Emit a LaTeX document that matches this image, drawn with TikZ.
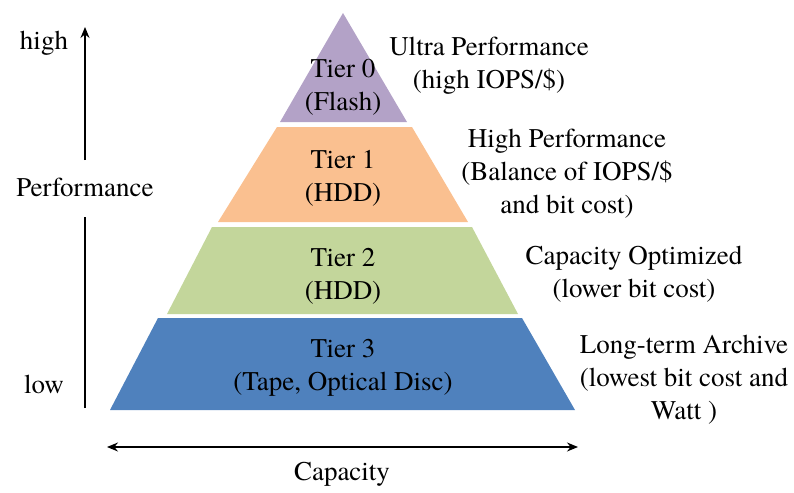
\documentclass[tikz,border=0pt]{standalone}
\usepackage{fontspec}
\setmainfont{TeX Gyre Termes}
\usetikzlibrary{arrows.meta}
\definecolor{tierpurple}{RGB}{179,162,199}
\definecolor{tierorange}{RGB}{250,192,144}
\definecolor{tiergreen}{RGB}{195,214,155}
\definecolor{tierblue}{RGB}{79,129,189}
\begin{document}
\begin{tikzpicture}[x=1pt,y=-1pt,
  lbl/.style={align=center,font=\fontsize{27}{33}\selectfont,inner sep=0pt},
  axis/.style={line width=1.5pt},
  tip/.style={-{Stealth[length=11pt,width=9pt]}}]
\useasboundingbox (0,0) rectangle (794,492);
% pyramid bands
\fill[tierpurple] (343,13) -- (407,122) -- (280,122) -- cycle;
\fill[tierorange] (277,127) -- (412,127) -- (468,222) -- (218,222) -- cycle;
\fill[tiergreen] (212,227) -- (472,227) -- (518,314) -- (167,314) -- cycle;
\fill[tierblue] (158,318) -- (522,318) -- (575,410) -- (110,410) -- cycle;
% tier labels
\node[lbl] (t0) at (343,87) {Tier 0\\(Flash)};
\node[lbl] (t1) at (343,178.5) {Tier 1\\(HDD)};
\node[lbl] (t2) at (343,276.5) {Tier 2\\(HDD)};
\node[lbl] (t3) at (343,367.5) {Tier 3\\(Tape, Optical Disc)};
% descriptions
\node[lbl] (d0) at (489,65.5) {Ultra Performance\\(high IOPS/\$)};
\node[lbl] (d1) at (567,174) {High Performance\\(Balance of IOPS/\$\\and bit cost)};
\node[lbl] (d2) at (634,274) {Capacity Optimized\\(lower bit cost)};
\node[lbl] (d3) at (684,380) {Long-term Archive\\(lowest bit cost and\\Watt )};
% performance axis
\node[lbl] (high) at (44,43) {high};
\node[lbl] (low) at (44,384) {low};
\node[lbl] (perf) at (85,187) {Performance};
\coordinate (ptop) at (85,27);
\coordinate (pbot) at (85,408);
\coordinate (g1) at (85,160);
\coordinate (g2) at (85,217);
\draw[axis,tip] (g1) -- (ptop);
\draw[axis] (pbot) -- (g2);
% capacity axis
\coordinate (cl) at (107,447);
\coordinate (cr) at (578,447);
\draw[axis,{Stealth[length=11pt,width=9pt]}-{Stealth[length=11pt,width=9pt]}] (cl) -- (cr);
\node[lbl] (cap) at (342,474) {Capacity};
\end{tikzpicture}
\end{document}
